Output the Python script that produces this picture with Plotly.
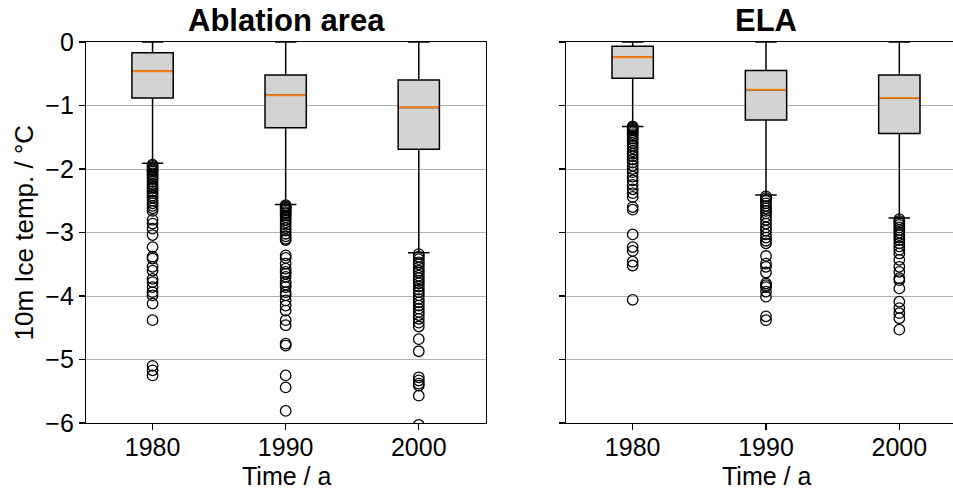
import plotly.graph_objects as go

years = [1980, 1990, 2000]

# Ablation area box statistics
abl_q1 = [-0.88, -1.35, -1.69]
abl_med = [-0.46, -0.84, -1.03]
abl_q3 = [-0.17, -0.52, -0.60]
abl_lo = [-1.91, -2.56, -3.32]
abl_hi = [0.0, 0.0, 0.0]

# ELA box statistics
ela_q1 = [-0.57, -1.23, -1.44]
ela_med = [-0.24, -0.75, -0.88]
ela_q3 = [-0.065, -0.45, -0.52]
ela_lo = [-1.33, -2.41, -2.77]
ela_hi = [0.0, 0.0, 0.0]

# Outliers
abl_1980_out = [-1.93, -1.95, -1.97, -2.0, -2.02, -2.04, -2.07, -2.1, -2.13, -2.16, -2.2, -2.24,
                -2.28, -2.31, -2.35, -2.38, -2.42, -2.45, -2.5, -2.54, -2.58, -2.62, -2.66, -2.8,
                -2.86, -2.94, -3.04, -3.23, -3.38, -3.41, -3.54, -3.6, -3.73, -3.78, -3.86, -3.94,
                -3.99, -4.12, -4.38, -5.1, -5.17, -5.25]
abl_1990_out = [-2.57, -2.59, -2.61, -2.63, -2.65, -2.68, -2.7, -2.73, -2.76, -2.8, -2.84, -2.88,
                -2.93, -2.97, -3.02, -3.06, -3.1, -3.12, -3.36, -3.4, -3.49, -3.57, -3.62, -3.65,
                -3.7, -3.78, -3.82, -3.86, -3.94, -3.99, -4.07, -4.15, -4.23, -4.38, -4.46, -4.75,
                -4.78, -5.25, -5.44, -5.81]
abl_2000_out = [-3.34, -3.38, -3.42, -3.47, -3.5, -3.55, -3.6, -3.63, -3.68, -3.72, -3.76, -3.8,
                -3.85, -3.9, -3.94, -3.99, -4.05, -4.1, -4.15, -4.2, -4.25, -4.3, -4.36, -4.42,
                -4.48, -4.68, -4.87, -5.28, -5.33, -5.38, -5.41, -5.57, -6.03]
ela_1980_out = [-1.33, -1.35, -1.37, -1.39, -1.42, -1.45, -1.48, -1.52, -1.55, -1.59, -1.63, -1.67,
                -1.72, -1.76, -1.8, -1.85, -1.9, -1.95, -2.0, -2.05, -2.12, -2.18, -2.25, -2.32,
                -2.38, -2.44, -2.6, -2.64, -3.03, -3.23, -3.29, -3.46, -3.52, -4.06]
ela_1990_out = [-2.43, -2.46, -2.5, -2.54, -2.58, -2.62, -2.66, -2.7, -2.75, -2.8, -2.86, -2.92,
                -2.97, -3.03, -3.08, -3.13, -3.17, -3.37, -3.49, -3.54, -3.63, -3.8, -3.83, -3.86,
                -3.93, -4.01, -4.32, -4.38]
ela_2000_out = [-2.79, -2.82, -2.85, -2.88, -2.92, -2.96, -3.0, -3.04, -3.08, -3.12, -3.17, -3.22,
                -3.27, -3.33, -3.43, -3.54, -3.62, -3.72, -3.75, -3.88, -4.09, -4.19, -4.27, -4.35,
                -4.53]

titles = ["Ablation area", "ELA"]
y_ticks = [0, -1, -2, -3, -4, -5, -6]
x_ticks = [1980, 1990, 2000]
y_label = "10m Ice temp. / °C"
x_label = "Time / a"

BOX_W = 3.1
FONT = "Arial, Liberation Sans, sans-serif"

fig = go.Figure()

panels = [
    ("x", "y", abl_q1, abl_med, abl_q3, abl_lo, abl_hi, [abl_1980_out, abl_1990_out, abl_2000_out]),
    ("x2", "y2", ela_q1, ela_med, ela_q3, ela_lo, ela_hi, [ela_1980_out, ela_1990_out, ela_2000_out]),
]

for xa, ya, q1, med, q3, lo, hi, outs in panels:
    fig.add_trace(go.Box(
        x=years, q1=q1, median=med, q3=q3, lowerfence=lo, upperfence=hi,
        width=BOX_W, whiskerwidth=0.52, boxpoints=False,
        fillcolor="#d3d3d3", line=dict(color="black", width=1.5),
        xaxis=xa, yaxis=ya, showlegend=False, hoverinfo="skip",
    ))
    mx, my = [], []
    for p, m in zip(years, med):
        mx += [p - BOX_W / 2 + 0.06, p + BOX_W / 2 - 0.06, None]
        my += [m, m, None]
    fig.add_trace(go.Scatter(
        x=mx, y=my, mode="lines", line=dict(color="#ff7f0e", width=1.9),
        xaxis=xa, yaxis=ya, showlegend=False, hoverinfo="skip",
    ))
    for p, o in zip(years, outs):
        fig.add_trace(go.Scatter(
            x=[p] * len(o), y=o, mode="markers",
            marker=dict(symbol="circle-open", size=10.5, color="black", line=dict(width=1.3)),
            xaxis=xa, yaxis=ya, showlegend=False, hoverinfo="skip",
        ))

W, H = 953, 490
L, R, T, B = 86, 0, 42, 67
pw = W - L - R
d1 = [0, 400 / pw]
d2 = [480 / pw, 1]

axis_common = dict(
    showline=True, linecolor="black", linewidth=1.2,
    ticks="outside", ticklen=6, tickwidth=1.2, tickcolor="black",
    tickfont=dict(family=FONT, size=25, color="black"),
    zeroline=False, automargin=False,
)

fig.update_layout(
    width=W, height=H,
    margin=dict(l=L, r=R, t=T, b=B, autoexpand=False),
    plot_bgcolor="white", paper_bgcolor="white",
    font=dict(family=FONT, color="black"),
    boxmode="overlay",
    xaxis=dict(domain=d1, range=[1975, 2005.05], tickvals=x_ticks, mirror=True, showgrid=False,
               anchor="y", ticklabelstandoff=-4, **axis_common),
    yaxis=dict(domain=[0, 1], range=[-6, 0], tickvals=y_ticks, mirror=True, showgrid=True,
               gridcolor="#b0b0b0", gridwidth=1, anchor="x", **axis_common),
    xaxis2=dict(domain=d2, range=[1975, 1975 + 387 / 13.333], tickvals=x_ticks, mirror=True,
                showgrid=False, anchor="y2", ticklabelstandoff=-4, **axis_common),
    yaxis2=dict(domain=[0, 1], range=[-6, 0], tickvals=y_ticks, mirror=False, showgrid=True,
                gridcolor="#b0b0b0", gridwidth=1, showticklabels=False, anchor="x2",
                **axis_common),
)

ann_font = dict(family=FONT, size=25, color="black")
ylab_font = dict(family=FONT, size=26, color="black")
title_font = dict(family=FONT, size=31, color="black")
c1 = (d1[0] + d1[1]) / 2
c2 = (480 + 200) / pw
for c, t in zip([c1, c2], titles):
    fig.add_annotation(text="<b>" + t + "</b>", x=c, y=1, xref="paper", yref="paper",
                       xanchor="center", yanchor="bottom", yshift=2, showarrow=False,
                       font=title_font)
    fig.add_annotation(text=x_label, x=c, y=0, xref="paper", yref="paper",
                       xanchor="center", yanchor="top", yshift=-37, showarrow=False,
                       font=ann_font)
fig.add_annotation(text=y_label, x=0, y=0.5, xref="paper", yref="paper", textangle=-90,
                   xanchor="center", yanchor="middle", xshift=-63, showarrow=False,
                   font=ylab_font)

fig.write_html(
    "out.html",
    config={"displayModeBar": False, "staticPlot": True},
    post_script="document.body.style.margin='0';document.body.style.overflow='hidden';",
)
